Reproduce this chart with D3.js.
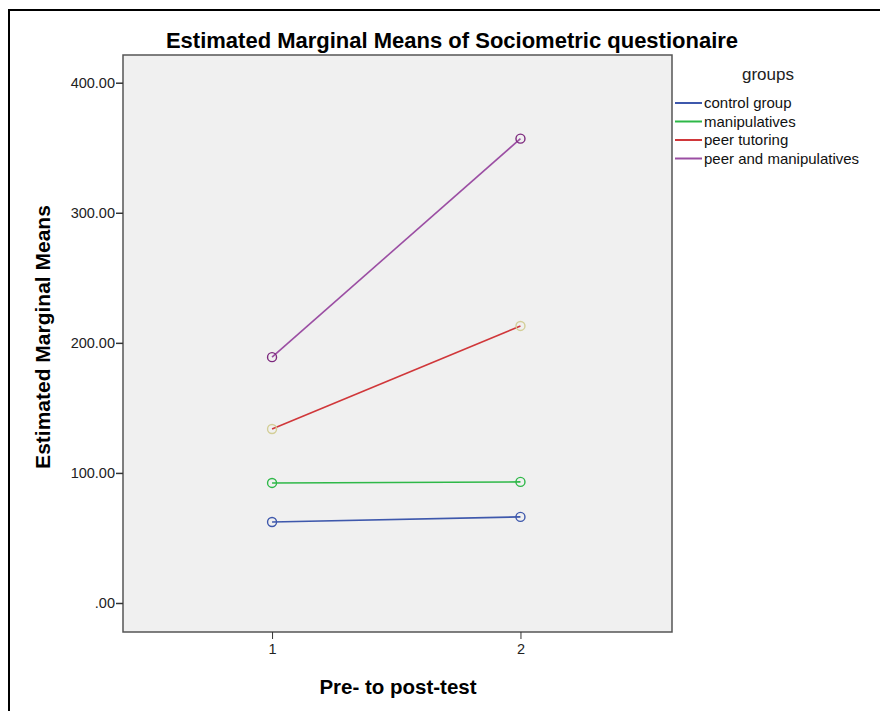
<!DOCTYPE html>
<html><head><meta charset="utf-8">
<script src="https://cdn.jsdelivr.net/npm/d3@7"></script>
<style>body{margin:0;background:#fff}svg{display:block}</style>
</head><body>
<svg id="c" width="880" height="711"></svg>
<script>
const times = [1, 2];
const groups = ["control group", "manipulatives", "peer tutoring", "peer and manipulatives"];
const controlGroup = [62.3, 66.2];
const manipulatives = [92.3, 93.1];
const peerTutoring = [133.8, 213.0];
const peerAndManipulatives = [189.0, 357.0];
const yTicks = [0, 100, 200, 300, 400];
const lineColors = ["#3e58ac", "#2eb848", "#d0373a", "#9b4ea3"];
const markerColors = ["#3e58ac", "#2eb848", "#d3ce97", "#7c287d"];
const seriesValues = [controlGroup, manipulatives, peerTutoring, peerAndManipulatives];

const svg = d3.select("#c");
const font = "Arial, 'Liberation Sans', sans-serif";

// outer frame
svg.append("rect").attr("x", 9).attr("y", 10).attr("width", 900).attr("height", 720)
  .attr("fill", "none").attr("stroke", "#000").attr("stroke-width", 2);

const L = 123, R = 672, T = 55, B = 632;
const x = d3.scaleLinear().domain([0.4, 2.61]).range([L, R]);
const y = d3.scaleLinear().domain([-22.3, 421.3]).range([B, T]);

svg.append("rect").attr("x", L).attr("y", T).attr("width", R - L).attr("height", B - T)
  .attr("fill", "#f0f0f0").attr("stroke", "#555").attr("stroke-width", 1.5);

// y axis
const yAxis = svg.append("g").attr("transform", `translate(${L},0)`)
  .call(d3.axisLeft(y).tickValues(yTicks).tickSize(7).tickPadding(1)
    .tickFormat(d => d === 0 ? ".00" : d3.format(".2f")(d)));
yAxis.select(".domain").remove();
yAxis.selectAll("line").attr("stroke", "#333").attr("stroke-width", 1.5);
yAxis.selectAll("text").attr("font-family", font).attr("font-size", 14.5).attr("fill", "#222");

// x axis
const xAxis = svg.append("g").attr("transform", `translate(0,${B})`)
  .call(d3.axisBottom(x).tickValues(times).tickSize(7).tickPadding(5).tickFormat(d3.format("d")));
xAxis.select(".domain").remove();
xAxis.selectAll("line").attr("stroke", "#333").attr("stroke-width", 1);
xAxis.selectAll("text").attr("font-family", font).attr("font-size", 14.5).attr("fill", "#222");

// titles
svg.append("text").attr("x", 452).attr("y", 48).attr("text-anchor", "middle")
  .attr("font-family", font).attr("font-weight", "bold").attr("font-size", 22)
  .text("Estimated Marginal Means of Sociometric questionaire");
svg.append("text").attr("x", 398).attr("y", 694).attr("text-anchor", "middle")
  .attr("font-family", font).attr("font-weight", "bold").attr("font-size", 20.5)
  .text("Pre- to post-test");
svg.append("text").attr("transform", "translate(50,337) rotate(-90)").attr("text-anchor", "middle")
  .attr("font-family", font).attr("font-weight", "bold").attr("font-size", 21)
  .text("Estimated Marginal Means");

// series
const line = d3.line().x((d, i) => x(times[i])).y(d => y(d));
seriesValues.forEach((vals, gi) => {
  svg.append("path").datum(vals).attr("d", line).attr("fill", "none")
    .attr("stroke", lineColors[gi]).attr("stroke-width", 1.6);
  svg.selectAll(null).data(vals).enter().append("circle")
    .attr("cx", (d, i) => x(times[i])).attr("cy", d => y(d)).attr("r", 4.5)
    .attr("fill", "none").attr("stroke", markerColors[gi]).attr("stroke-width", 1.4);
});

// legend
svg.append("text").attr("x", 768).attr("y", 80).attr("text-anchor", "middle")
  .attr("font-family", font).attr("font-size", 17).attr("fill", "#222").text("groups");
const lg = svg.append("g");
groups.forEach((g, i) => {
  const yy = 103 + i * 18.5;
  lg.append("line").attr("x1", 675).attr("x2", 702).attr("y1", yy).attr("y2", yy)
    .attr("stroke", lineColors[i]).attr("stroke-width", 2);
  lg.append("text").attr("x", 704).attr("y", yy + 5).attr("font-family", font)
    .attr("font-size", 15).attr("fill", "#111").text(g);
});
</script>
</body></html>
